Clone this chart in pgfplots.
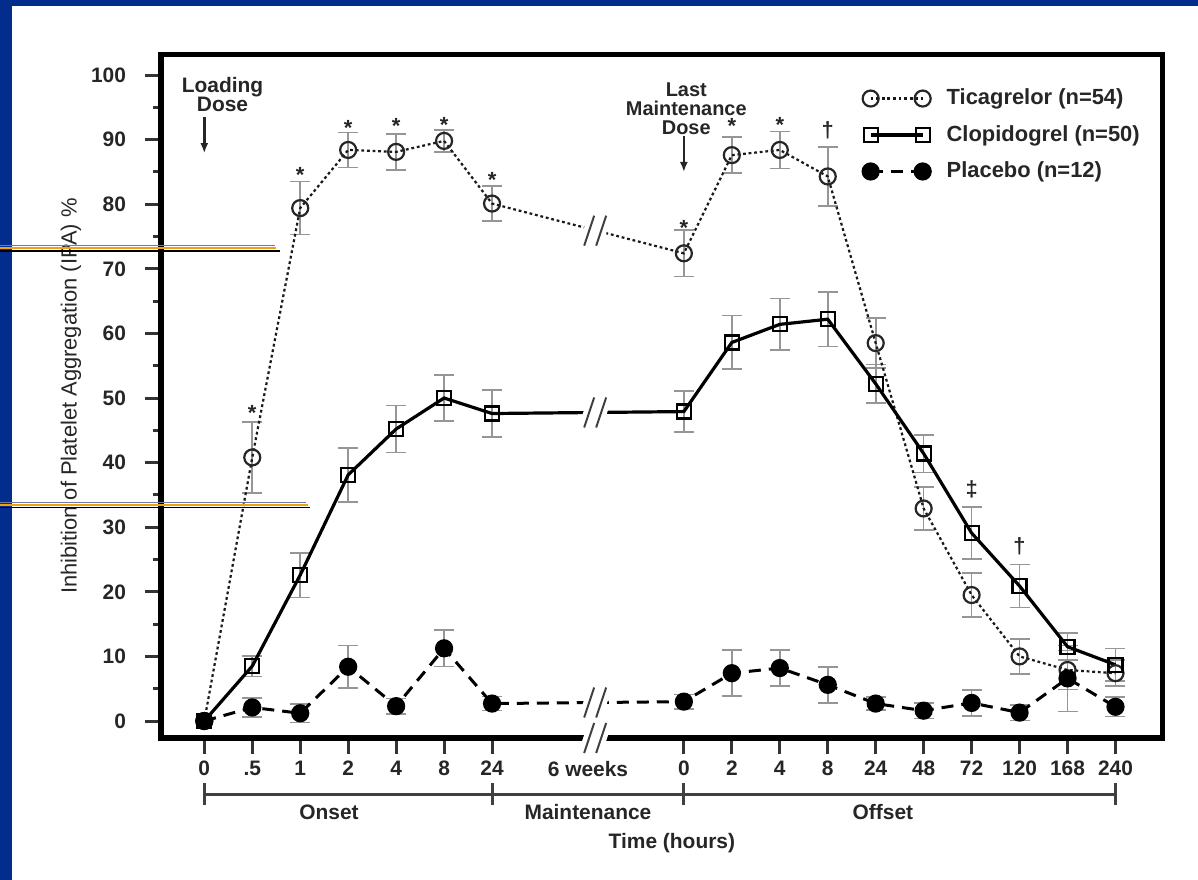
\documentclass[border=0pt]{standalone}
\usepackage{fontspec}
\setmainfont{Liberation Sans}
\usepackage{pgfplots}
\pgfplotsset{compat=1.18}
\usepackage{pgfplotstable}
\usetikzlibrary{arrows.meta}
\definecolor{slideblue}{RGB}{3,45,140}
\definecolor{decoorange}{RGB}{240,160,20}
\definecolor{decogray}{RGB}{110,125,160}
\definecolor{errgray}{RGB}{150,150,150}

\pgfplotstableread{
x y e
0 0 0
1 40.8 5.5
2 79.4 4.1
3 88.4 2.7
4 88.1 2.8
5 89.8 1.7
6 80.1 2.7
10 72.4 3.6
11 87.6 2.8
12 88.4 2.85
13 84.3 4.6
14 58.5 3.9
15 32.9 3.35
16 19.5 3.4
17 10.0 2.7
18 7.9 3.0
19 7.4 2.0
}\tica
\pgfplotstableread{
x y e
0 0 0
1 8.5 1.6
2 22.6 3.45
3 38.1 4.2
4 45.2 3.65
5 50.0 3.6
6 47.6 3.6
10 47.9 3.2
11 58.6 4.15
12 61.4 4.0
13 62.2 4.25
14 52.2 3.0
15 41.4 2.9
16 29.1 4.05
17 20.9 3.35
18 11.5 2.1
19 8.7 2.5
}\clop
\pgfplotstableread{
x y e
0 0 0
1 2.1 1.5
2 1.2 1.4
3 8.4 3.3
4 2.3 1.2
5 11.25 2.8
6 2.7 1.1
10 3.0 1.1
11 7.4 3.55
12 8.2 2.8
13 5.6 2.8
14 2.7 1.0
15 1.6 1.2
16 2.8 2.0
17 1.3 1.2
18 6.6 5.1
19 2.2 1.5
}\plac

\pgfplotsset{errstyle/.style={draw=none, mark=none, forget plot,
  error bars/.cd, y dir=both, y explicit, error mark=-,
  error bar style={draw=errgray, line width=0.8bp, solid},
  error mark options={rotate=90, draw=errgray, line width=0.8bp, mark size=5bp, solid}}}

\begin{document}
\begin{tikzpicture}
\fill[slideblue] (0,0) rectangle (599bp,440bp);
\fill[white] (6bp,0) rectangle (599bp,437bp);

\begin{axis}[
  at={(80.5bp,71bp)}, anchor=south west,
  scale only axis, width=500.5bp, height=341.5bp,
  xmin=-0.903, xmax=19.97, ymin=-2.63, ymax=103.1,
  clip=false,
  axis line style={line width=2.5bp, black},
  tick align=outside, tick pos=left,
  xtick={0,1,2,3,4,5,6,10,11,12,13,14,15,16,17,18,19},
  xticklabels={0,.5,1,2,4,8,24,0,2,4,8,24,48,72,120,168,240},
  ytick={0,10,...,100}, minor ytick={5,15,...,95},
  major tick length=8bp, minor tick length=4bp,
  tick style={line width=1.5bp, black!80},
  every tick label/.append style={font=\bfseries\fontsize{10.5}{12}\selectfont, text=black!85},
  yticklabel style={xshift=-6bp},
  /pgf/number format/assume math mode=true,
  legend cell align=left,
  legend image code/.code={\draw[mark repeat=2, mark phase=1, #1] plot coordinates {(0bp,0bp) (13bp,0bp) (26bp,0bp)};},
  legend style={draw=none, fill=none, at={(axis cs:13.72,98.5)}, anchor=north west,
    font=\bfseries\fontsize{11}{13}\selectfont, text=black!85, inner sep=0pt, row sep=4.8bp,
    nodes={inner sep=2bp}, /tikz/every odd column/.append style={column sep=6bp}},
]
% error bars (gray)
\addplot[errstyle] table[x=x, y=y, y error=e, skip coords between index={0}{1}] {\tica};
\addplot[errstyle] table[x=x, y=y, y error=e, skip coords between index={0}{1}] {\clop};
\addplot[errstyle] table[x=x, y=y, y error=e, skip coords between index={0}{1}] {\plac};
% series
\addplot[black!90, line width=1.1bp, dash pattern=on 1.4bp off 1.4bp, mark=o, mark size=4bp,
  mark options={solid, line width=1.1bp, black!85}] table[x=x, y=y] {\tica};
\addplot[black, line width=1.6bp, mark=square, mark size=3.5bp,
  mark options={solid, line width=1.1bp, black}] table[x=x, y=y] {\clop};
\addplot[black, line width=1.5bp, dash pattern=on 6bp off 4bp, mark=*, mark size=3.8bp,
  mark options={solid, fill=black, draw=black}] table[x=x, y=y] {\plac};
\legend{Ticagrelor (n=54), Clopidogrel (n=50), Placebo (n=12)}

% significance symbols
\tikzset{star/.style={font=\bfseries\fontsize{11}{11}\selectfont, inner sep=0pt, text=black!85, yshift=-2.4bp},
         dag/.style={font=\bfseries\fontsize{11}{11}\selectfont, inner sep=0pt, text=black!85}}
\node[star] at (axis cs:1,48.4) {*};
\node[star] at (axis cs:2,85.3) {*};
\node[star] at (axis cs:3,92.5) {*};
\node[star] at (axis cs:4,92.8) {*};
\node[star] at (axis cs:5,93.0) {*};
\node[star] at (axis cs:6,84.5) {*};
\node[star] at (axis cs:10,77.0) {*};
\node[star] at (axis cs:11,92.8) {*};
\node[star] at (axis cs:12,93.0) {*};
\node[dag] at (axis cs:13,91.5) {†};
\node[dag] at (axis cs:16,35.8) {‡};
\node[dag] at (axis cs:17,27.0) {†};

% dose annotations
\node[anchor=north, align=center, inner sep=0pt, text=black!85, font=\bfseries\fontsize{10.5}{9.5}\selectfont] at (axis cs:0.38,99.7) {Loading\\Dose};
\node[anchor=north, align=center, inner sep=0pt, text=black!85, font=\bfseries\fontsize{10}{9.5}\selectfont] at (axis cs:10.05,98.9) {Last\\Maintenance\\Dose};
\draw[black!85, line width=1.2bp, -{Latex[length=5bp,width=4bp]}] (axis cs:0,93.5) -- (axis cs:0,87.9);
\draw[black!85, line width=1.2bp, -{Latex[length=5bp,width=4bp]}] (axis cs:10,90.6) -- (axis cs:10,85.0);

% x-axis extras
\node[anchor=north, yshift=-8bp, font=\bfseries\fontsize{10.5}{12}\selectfont, text=black!85] at (axis cs:8,-2.63) {6 weeks};
\draw[black!75, line width=1.5bp] (axis cs:0,-11.45) -- (axis cs:19,-11.45);
\draw[black!75, line width=1.5bp] (axis cs:0,-9.6) -- (axis cs:0,-13.0);
\draw[black!75, line width=1.5bp] (axis cs:6,-9.6) -- (axis cs:6,-13.0);
\draw[black!75, line width=1.5bp] (axis cs:10,-9.6) -- (axis cs:10,-13.0);
\draw[black!75, line width=1.5bp] (axis cs:19,-9.6) -- (axis cs:19,-13.0);
\node[font=\bfseries\fontsize{10.5}{12}\selectfont, text=black!85] at (axis cs:2.6,-14.1) {Onset};
\node[font=\bfseries\fontsize{10.5}{12}\selectfont, text=black!85] at (axis cs:8,-14.1) {Maintenance};
\node[font=\bfseries\fontsize{10.5}{12}\selectfont, text=black!85] at (axis cs:14.15,-14.1) {Offset};
\node[font=\bfseries\fontsize{10.5}{12}\selectfont, text=black!85] at (axis cs:9.75,-18.9) {Time (hours)};
\node[rotate=90, font=\fontsize{11}{13}\selectfont, text=black!85] at (axis cs:-2.78,50.3) {Inhibition of Platelet Aggregation (IPA) \%};

\coordinate (brT) at (axis cs:8.15,75.9);
\coordinate (brC) at (axis cs:8.15,47.75);
\coordinate (brP) at (axis cs:8.15,2.86);
\coordinate (brA) at (axis cs:8.15,-2.63);
\end{axis}

\foreach \c in {brT,brC,brP,brA}{
  \begin{scope}[shift={(\c)}]
    \fill[white] (-8.5bp,-7.5bp) -- (-3.5bp,7.5bp) -- (8.5bp,7.5bp) -- (3.5bp,-7.5bp) -- cycle;
    \draw[black!75, line width=1bp] (-5.5bp,-7.5bp) -- (-0.5bp,7.5bp) (0.5bp,-7.5bp) -- (5.5bp,7.5bp);
  \end{scope}
}

% slide decoration lines
\draw[decogray, line width=0.9bp] (0,317.2bp) -- (137.5bp,317.2bp);
\draw[decoorange, line width=1bp] (0,315.9bp) -- (138bp,315.9bp);
\draw[black, line width=0.9bp] (0,314.6bp) -- (140bp,314.6bp);
\draw[decogray, line width=0.9bp] (0,188.7bp) -- (153bp,188.7bp);
\draw[decoorange, line width=1bp] (0,187.4bp) -- (154bp,187.4bp);
\draw[black, line width=0.9bp] (0,186.2bp) -- (155bp,186.2bp);

\pgfresetboundingbox
\useasboundingbox (0,0) rectangle (599bp,440bp);
\end{tikzpicture}
\end{document}
